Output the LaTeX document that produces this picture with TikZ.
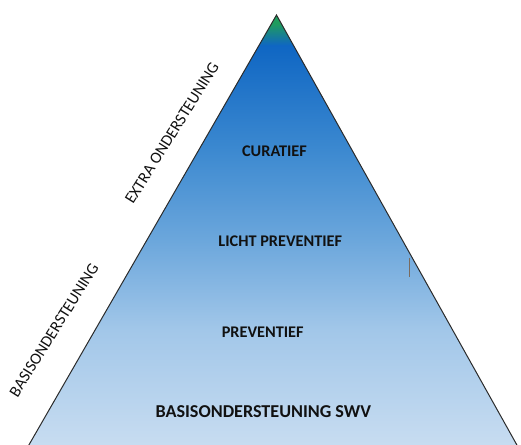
\documentclass[tikz,border=0pt]{standalone}
\usepackage{fontspec}
\setmainfont{Carlito}
\usetikzlibrary{calc}
\definecolor{edge}{HTML}{2B2B2B}
\definecolor{tipgreen}{HTML}{1F9C5E}
\definecolor{pyrtop}{HTML}{0F66C3}
\definecolor{pyrhigh}{HTML}{3C89D0}
\definecolor{pyrmid}{HTML}{6CA7DC}
\definecolor{pyrlow}{HTML}{A2C7E9}
\definecolor{pyrbot}{HTML}{C9DDF1}
\definecolor{cursor}{HTML}{7A6B5E}
\definecolor{text}{HTML}{111111}
\pgfdeclareverticalshading{pyramid}{100bp}{color(0bp)=(pyrbot); color(25bp)=(pyrbot);
  color(38.8bp)=(pyrlow); color(49bp)=(pyrmid); color(59.5bp)=(pyrhigh);
  color(71.5bp)=(pyrtop); color(74bp)=(tipgreen); color(100bp)=(tipgreen)}
\tikzset{
  pyr/.style={draw=edge, line width=0.75pt, shading=pyramid},
  lvl/.style={text=text, font=\fontsize{12.2}{14}\selectfont\bfseries, inner sep=0pt},
  lvlbig/.style={lvl, font=\fontsize{13.6}{16}\selectfont\bfseries},
  side/.style={text=text, font=\fontsize{12.2}{14}\selectfont, rotate=58, inner sep=0pt}
}

\begin{document}
\begin{tikzpicture}[x=0.75pt, y=-0.75pt]
  \useasboundingbox (0,0) rectangle (521,445);
  \clip (0,0) rectangle (521,445);

  \coordinate (T) at (276.5,15);
  \coordinate (L) at (26,450);
  \coordinate (R) at (519.7,450);
  \shade[pyr] (T) -- (R) -- (L) -- cycle;

  \node[lvl] (cur) at (274.5,151.5) {CURATIEF};
  \node[lvl] (licht) at (280.3,241) {LICHT PREVENTIEF};
  \node[lvl] (prev) at (262.7,332.5) {PREVENTIEF};
  \node[lvlbig] (basis) at (263.3,412) {BASISONDERSTEUNING SWV};

  \node[side] (extra) at (172,133) {EXTRA ONDERSTEUNING};
  \node[side] (basisside) at (54,330) {BASISONDERSTEUNING};

  \coordinate (c1) at (409,258);
  \coordinate (c2) at (409,277);
  \draw[cursor, line width=0.75pt] (c1) -- (c2);
\end{tikzpicture}
\end{document}
